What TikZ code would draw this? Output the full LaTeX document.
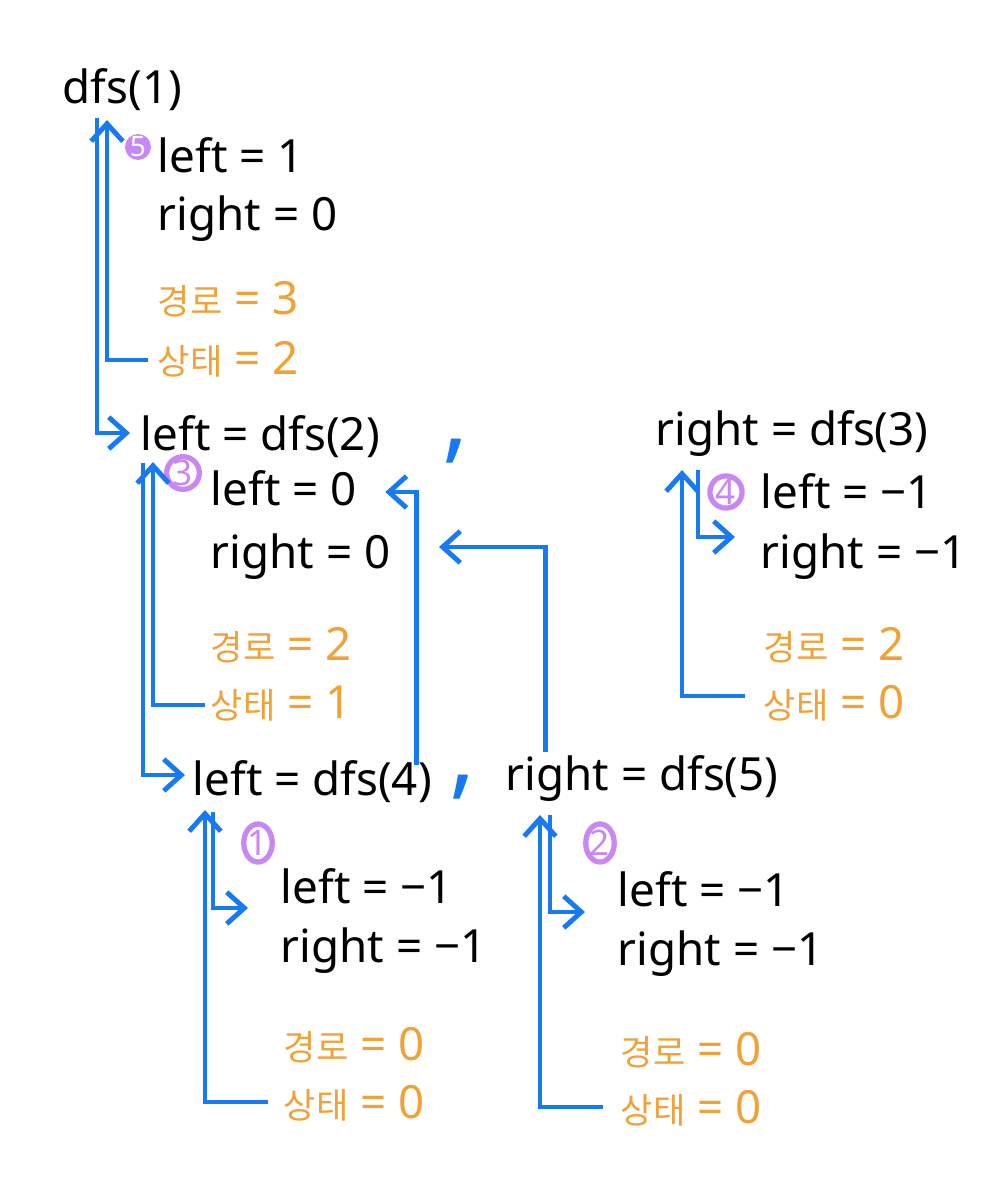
\documentclass[tikz,border=0pt]{standalone}
\usepackage{fontspec}
\setmainfont{Noto Sans}
\newfontfamily\krfont{Noto Sans CJK KR}
\usetikzlibrary{arrows.meta,calc,shapes.geometric}
\definecolor{flowblue}{RGB}{24,122,240}
\definecolor{noteorange}{RGB}{240,162,56}
\definecolor{stepviolet}{RGB}{200,135,245}
\newcommand{\ko}[1]{{\krfont\fontsize{10}{12}\selectfont #1}}

\begin{document}
\begin{tikzpicture}[x=0.01cm, y=-0.01cm,
    call/.style={anchor=base west, inner sep=0pt, font=\fontsize{13}{15}\selectfont},
    val/.style={call},
    note/.style={call, text=noteorange},
    badge/.style={circle, draw=stepviolet, line width=1.5pt, text=stepviolet, inner sep=0pt, minimum size=0.29cm, font=\fontsize{10}{10}\selectfont\bfseries},
    badgetall/.style={badge, ellipse, minimum width=0.25cm, minimum height=0.38cm},
    badgefill/.style={circle, fill=stepviolet, text=white, inner sep=0pt, minimum size=0.22cm, font=\fontsize{8}{8}\selectfont\bfseries},
    flow/.style={draw=flowblue, line width=1.4pt, -{Straight Barb[length=5pt,width=9pt]}},
    sep/.style={anchor=base, text=flowblue, font=\fontsize{28}{28}\selectfont\bfseries}
]
    \useasboundingbox (0,0) rectangle (1000,1199);

    % dfs(1)
    \node[call] (call1) at (62,103) {dfs(1)};
    \node[badgefill] (b5) at (138,147) {5};
    \node[val] (l1) at (157,172) {left = 1};
    \node[val] (r1) at (157,230) {right = 0};
    \node[note] (path1) at (157,314) {\ko{경로} = 3};
    \node[note] (state1) at (157,374) {\ko{상태} = 2};

    % dfs(2) and dfs(3)
    \node[call] (call2) at (140,450) {left = dfs(2)};
    \node[sep] (comma1) at (456,450) {,};
    \node[call] (call3) at (655,445) {right = dfs(3)};

    \node[badge] (b3) at (183,473) {3};
    \node[val] (l2) at (210,505) {left = 0};
    \node[val] (r2) at (210,568) {right = 0};
    \node[note] (path2) at (210,660) {\ko{경로} = 2};
    \node[note] (state2) at (210,718) {\ko{상태} = 1};

    \node[badge] (b4) at (726,492) {4};
    \node[val] (l3) at (760,508) {left = −1};
    \node[val] (r3) at (760,568) {right = −1};
    \node[note] (path3) at (763,660) {\ko{경로} = 2};
    \node[note] (state3) at (763,718) {\ko{상태} = 0};

    % dfs(4) and dfs(5)
    \node[call] (call4) at (192,795) {left = dfs(4)};
    \node[sep] (comma2) at (463,786) {,};
    \node[call] (call5) at (505,790) {right = dfs(5)};

    \node[badgetall] (b1) at (258,843) {1};
    \node[val] (l4) at (280,903) {left = −1};
    \node[val] (r4) at (280,962) {right = −1};
    \node[note] (path4) at (283,1060) {\ko{경로} = 0};
    \node[note] (state4) at (283,1118) {\ko{상태} = 0};

    \node[badgetall] (b2) at (600,843) {2};
    \node[val] (l5) at (617,906) {left = −1};
    \node[val] (r5) at (617,965) {right = −1};
    \node[note] (path5) at (620,1065) {\ko{경로} = 0};
    \node[note] (state5) at (620,1123) {\ko{상태} = 0};

    % calls going down
    \draw[flow] ($(call1.base west)+(35,15)$) |- ($(call2.base west)+(-10,-17)$);
    \draw[flow] ($(call2.base west)+(3,13)$) |- ($(call4.base west)+(-7,-20)$);
    \draw[flow] ($(call4.base west)+(21,17)$) |- ($(l4.base west)+(-32,5)$);
    \draw[flow] ($(call5.base west)+(45,25)$) |- ($(l5.base west)+(-32,6)$);
    \draw[flow] ($(call3.base west)+(43,25)$) |- ($(r3.base west)+(-25,-31)$);

    % results going back up
    \draw[flow] ($(state1.base west)+(-9,-14)$) -| ($(call1.base west)+(45,17)$);
    \draw[flow] ($(state2.base west)+(-5,-13)$) -| ($(call2.base west)+(13,12)$);
    \draw[flow] ($(state4.base west)+(-15,-16)$) -| ($(call4.base west)+(13,15)$);
    \draw[flow] ($(state5.base west)+(-17,-16)$) -| ($(call5.base west)+(35,25)$);
    \draw[flow] ($(state3.base west)+(-18,-22)$) -| ($(call3.base west)+(27,25)$);

    % returned values into dfs(2)
    \draw[flow] ($(call4.base east)+(-16,-30)$) |- ($(l2.base east)+(28,-13)$);
    \draw[flow] ($(call5.base east)+(-234,-38)$) |- ($(r2.base east)+(48,-21)$);

\end{tikzpicture}
\end{document}
